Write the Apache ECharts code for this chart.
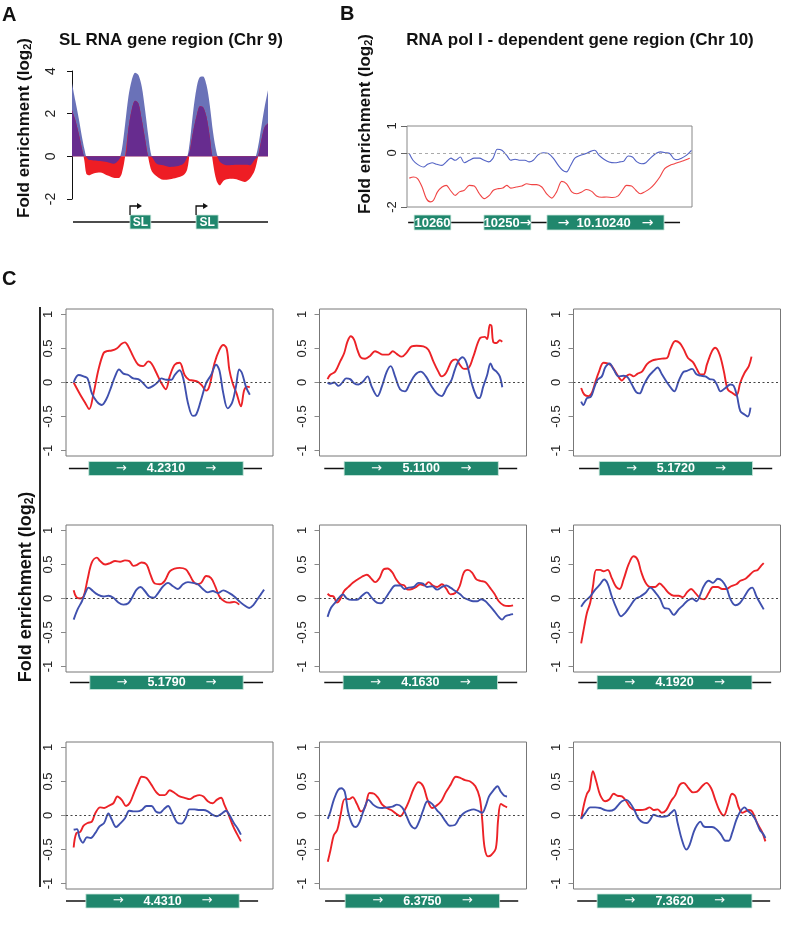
<!DOCTYPE html>
<html><head><meta charset="utf-8">
<script src="https://cdn.jsdelivr.net/npm/echarts@6/dist/echarts.min.js"></script>
<style>html,body{margin:0;padding:0;background:#fff}#c{width:797px;height:928px}</style>
</head><body><div id="c"></div>
<script>
// ---------------- DATA ----------------
// Panel A: SL RNA gene region (Chr 9), positions in % of region
const aX = [0,1.7,3.4,5.1,6.3,7.3,8.5,11,14.4,17.8,21.2,23.7,25.4,27.1,28.8,30.5,32.2,33.9,35.6,37.3,39,40.7,43.2,46.6,50,53.4,56.8,58.8,60.2,61.9,63.6,65.3,66.9,68.6,70.3,72,73.7,75.4,77.5,80.5,83.9,88.1,90.7,93.2,94.9,96.6,98.3,100];
const aBlue = [3.42,2.6,1.8,0.9,0.35,-0.03,-0.16,-0.19,-0.22,-0.27,-0.35,-0.19,0.3,1.5,2.8,3.58,3.92,3.81,3.26,2.16,0.91,-0.03,-0.35,-0.42,-0.5,-0.47,-0.35,-0.03,0.75,2.16,3.23,3.72,3.74,3.35,2.4,1.1,0.2,-0.25,-0.38,-0.42,-0.4,-0.4,-0.42,-0.16,0.44,1.38,2.32,3.1];
const aRed = [2.16,1.7,1.07,0.36,-0.19,-0.82,-0.89,-0.8,-0.76,-0.89,-1.0,-1.02,-0.8,0.0,1.3,2.2,2.6,2.48,1.7,0.8,-0.1,-0.7,-0.93,-1.1,-1.07,-1.0,-0.89,-0.6,0.3,1.2,1.9,2.35,2.3,1.85,0.91,-0.35,-1.13,-1.36,-1.13,-1.05,-1.08,-1.2,-1.05,-0.66,-0.03,0.75,1.38,1.54];
const aGeneStart = [29.6, 63.3];
const aGeneEnd = [40.2, 74.6];
const aGeneLabels = ['SL', 'SL'];

// Panel B: RNA pol I - dependent gene region (Chr 10)
const bBlue = [[0.8,-0.02],[2.1,-0.27],[3.7,-0.42],[5.8,-0.52],[7.2,-0.42],[8.8,-0.36],[10.5,-0.42],[12.3,-0.46],[13.8,-0.33],[15.4,-0.19],[16.9,-0.27],[18.7,-0.15],[20.1,-0.36],[21.9,-0.27],[23.6,-0.19],[25.4,-0.19],[27.1,-0.27],[28.6,-0.33],[30.1,-0.21],[31.7,0.14],[33.3,0.1],[35,-0.09],[36.4,-0.27],[37.9,-0.23],[39.7,-0.27],[41.4,-0.27],[42.9,-0.33],[44.3,-0.27],[46.1,-0.06],[47.8,0.01],[49.6,-0.02],[51.3,-0.19],[53.1,-0.46],[54.6,-0.64],[56,-0.7],[57.4,-0.46],[58.9,-0.19],[60.7,-0.09],[62.8,-0.02],[64.4,0.06],[65.9,0.1],[67.4,-0.09],[69.1,-0.23],[70.9,-0.33],[72.9,-0.36],[74.7,-0.33],[76.1,-0.3],[77.6,-0.11],[79.1,-0.15],[80.7,-0.33],[82.3,-0.4],[83.8,-0.36],[85.4,-0.19],[87.3,-0.02],[88.9,0.04],[90.8,0.01],[92.2,-0.02],[93.6,-0.21],[94.7,-0.25],[96.3,-0.19],[98,-0.09],[99.8,0.1]];
const bRed = [[0.8,-0.93],[2.3,-0.89],[3.7,-0.95],[5.3,-1.26],[6.8,-1.69],[8.2,-1.81],[9.3,-1.75],[10.7,-1.44],[12.3,-1.26],[13.8,-1.2],[15.2,-1.38],[16.9,-1.57],[18.4,-1.44],[20.1,-1.38],[21.9,-1.2],[23.6,-1.22],[25.4,-1.51],[27.1,-1.69],[28.9,-1.57],[30.3,-1.38],[32.1,-1.32],[33.6,-1.3],[35,-1.2],[36.4,-1.3],[38.3,-1.26],[40.3,-1.22],[42,-1.14],[43.8,-1.17],[45.5,-1.17],[47.3,-1.26],[49,-1.51],[50.8,-1.67],[52.5,-1.44],[54.3,-1.05],[56,-1.14],[57.8,-1.44],[59.5,-1.51],[61.3,-1.44],[63,-1.35],[64.8,-1.42],[66.5,-1.59],[68.3,-1.64],[70,-1.63],[72.1,-1.65],[74.1,-1.59],[75.6,-1.38],[77,-1.2],[78.8,-1.22],[80.3,-1.38],[81.9,-1.51],[83.4,-1.44],[85.2,-1.32],[86.9,-1.14],[88.7,-0.89],[90.4,-0.58],[92.2,-0.46],[93.9,-0.4],[95.7,-0.33],[97.4,-0.27],[99.2,-0.19]];
const bGeneStart = [2.5, 27, 49.1];
const bGeneEnd = [15.4, 43.5, 90.2];
const bGeneLabels = ['10260', '10250\u2192', '\u2192  10.10240   \u2192'];

// Panel C: nine genes
const cNames = ['4.2310','5.1100','5.1720','5.1790','4.1630','4.1920','4.4310','6.3750','7.3620'];
const cGeneStart = [11, 11.9, 12.4, 11.5, 11.4, 11.4, 9.6, 12.4, 11.4];
const cGeneEnd = [85.6, 86.4, 86.5, 85.6, 86, 86.2, 83.7, 87, 86.2];
const cLineStart = [1.4, 2.3, 2.7, 1.9, 2.3, 2.3, 0, 2.7, 1.8];
const cLineEnd = [94.7, 95.5, 96, 95.2, 95.5, 95.5, 92.8, 96, 95];

const c1Red = [[3.7,0],[6.9,-0.18],[9.3,-0.3],[11.2,-0.39],[13.3,-0.16],[15.7,0.19],[18.1,0.43],[19.7,0.46],[22.1,0.47],[24.5,0.5],[26.9,0.57],[28.5,0.59],[30.1,0.53],[32.5,0.38],[34.9,0.26],[37.3,0.24],[39.7,0.31],[41.3,0.28],[43.7,0.14],[46.1,-0.01],[48.2,-0.1],[50.1,0.09],[52.5,0.26],[54.9,0.29],[57.3,0.11],[59.4,0.04],[61.3,0.03],[63.7,0.01],[65.8,-0.05],[67.7,-0.12],[69.3,-0.05],[71.7,0.28],[74.1,0.48],[76,0.55],[77.6,0.5],[78.9,0.19],[80.5,-0.01],[82.4,-0.16],[84.5,-0.35],[86.1,-0.11],[87.7,-0.06],[88.8,-0.07]];
const c1Blue = [[3.7,0],[6.1,0.11],[8.5,0.09],[10.4,0.06],[12.5,-0.16],[14.9,-0.28],[17.3,-0.33],[19.4,-0.25],[21.3,-0.11],[23.7,0.09],[25.6,0.19],[27.7,0.13],[30.1,0.11],[32.5,0.06],[34.9,0.05],[37.3,-0.01],[39.7,-0.08],[42.1,-0.05],[44.5,0.01],[46.1,0.06],[48.5,0.04],[50.9,0.04],[52.5,0.11],[54.9,0.18],[56.8,0.04],[58.9,-0.3],[61.3,-0.49],[62.9,-0.47],[65.3,-0.25],[67.7,-0.01],[70.1,0.11],[72.5,0.26],[74.1,0.18],[76,-0.16],[78.1,-0.38],[80.2,-0.3],[82.1,-0.06],[83.7,0.19],[85,0.14],[86.9,-0.06],[88.8,-0.18]];
const c2Red = [[3.9,0.05],[5.1,0.11],[7.6,0.16],[10,0.31],[11.9,0.43],[13.5,0.6],[15.1,0.68],[16.7,0.63],[18.3,0.48],[19.9,0.37],[22,0.35],[24.4,0.39],[26.8,0.46],[28.5,0.44],[30.5,0.41],[33.3,0.41],[35.4,0.46],[37.3,0.42],[39.7,0.38],[42.1,0.44],[44.5,0.53],[46.9,0.54],[50.2,0.53],[52.6,0.48],[55,0.31],[57.4,0.16],[59,0.09],[61.1,0.14],[63.8,0.31],[65.9,0.34],[67.8,0.26],[69.8,0.2],[71.9,0.21],[74.3,0.38],[77.5,0.65],[79.9,0.67],[81,0.64],[82.3,0.85],[83.1,0.83],[83.9,0.6],[85.5,0.58],[87.1,0.62],[88.3,0.6]];
const c2Blue = [[3.9,0],[5.1,-0.02],[7.1,0],[9.2,-0.05],[11.3,0.01],[12.9,0.06],[14.8,0.05],[16.7,-0.01],[18.8,-0.03],[20.9,0.01],[23.2,0.09],[25.2,-0.06],[28,-0.2],[30.1,-0.06],[32.5,0.16],[34.4,0.24],[36.5,0.09],[38.9,-0.1],[41.3,-0.13],[43.4,-0.03],[46.1,0.11],[48.9,0.16],[51.4,0.09],[54.2,-0.06],[56.6,-0.16],[59,-0.2],[61.4,-0.08],[63.8,0.04],[65.4,0.19],[67,0.31],[69.1,0.37],[71.1,0.28],[73.5,-0.01],[75.9,-0.21],[77.2,-0.23],[79.1,-0.06],[81,0.11],[82.6,0.28],[83.9,0.2],[85.5,0.16],[87.1,0.09],[88.3,-0.07]];
const c3Red = [[3.7,-0.08],[5.3,-0.18],[7.3,-0.2],[8.9,-0.15],[10.5,0],[12.1,0.14],[14.5,0.29],[16.5,0.28],[18.5,0.24],[21,0.12],[23.4,0.03],[25,0.08],[27.1,0.12],[29,0.09],[31,0.13],[33.1,0.16],[35.5,0.27],[37.9,0.32],[40.3,0.34],[42.7,0.35],[45.2,0.36],[46.8,0.49],[49.2,0.61],[51.3,0.58],[53.2,0.49],[55.3,0.36],[57.7,0.3],[59.7,0.19],[61.3,0.12],[62.9,0.12],[64.5,0.27],[66.9,0.46],[68.5,0.51],[70.6,0.41],[72.6,0.17],[74.5,-0.1],[76.6,-0.15],[78.7,-0.19],[80.6,0],[82.6,0.14],[84.7,0.24],[86,0.38]];
const c3Blue = [[3.7,-0.28],[4.8,-0.33],[6.5,-0.23],[8.4,-0.21],[10,-0.08],[11.6,0.04],[13.7,0.09],[15.3,0.22],[17.4,0.28],[19.4,0.19],[21.8,0.09],[24.2,0.1],[26.1,0.08],[28.2,-0.03],[30.3,-0.14],[31.9,-0.16],[33.9,-0.04],[36.3,0.09],[38.7,0.17],[40.6,0.22],[42.7,0.12],[45.2,0],[47.6,-0.1],[48.7,-0.13],[50.8,0.02],[52.9,0.15],[54.8,0.17],[57.3,0.2],[59.4,0.12],[61.3,0.1],[63.7,0.09],[65.8,0.05],[67.7,0.04],[69.4,-0.04],[71,-0.13],[73.4,-0.08],[75.8,-0.03],[77.4,-0.05],[79,-0.2],[80.6,-0.42],[82.6,-0.47],[84.2,-0.5],[85.5,-0.37]];
const c4Red = [[3.7,0.12],[5,0.02],[6.9,0],[8.5,0.03],[10.4,0.28],[12.5,0.53],[14.9,0.6],[16.5,0.55],[18.9,0.5],[21.3,0.52],[23.7,0.55],[26.1,0.54],[28.5,0.56],[30.6,0.55],[32.5,0.48],[34.1,0.49],[36.5,0.53],[38.9,0.5],[40.8,0.35],[42.9,0.22],[45.3,0.21],[47.7,0.26],[50.1,0.4],[52.5,0.44],[54.9,0.45],[57.8,0.43],[59.7,0.35],[61.3,0.26],[63.2,0.21],[65.3,0.23],[67.7,0.33],[70.1,0.3],[72.2,0.17],[74.1,0.03],[76.5,-0.04],[78.9,-0.06],[81.3,-0.05],[83.7,-0.09]];
const c4Blue = [[3.7,-0.31],[5.6,-0.16],[7.7,-0.04],[9.3,0.08],[10.9,0.16],[13,0.11],[15.2,0.06],[18.1,0.03],[20.5,0.04],[22.9,0.01],[25.3,-0.06],[27.7,-0.09],[30.1,-0.07],[32.2,0.03],[34.1,0.13],[36,0.17],[38.1,0.11],[40.2,0.03],[42.4,0.01],[44.5,0.08],[46.9,0.18],[49.3,0.23],[51.7,0.18],[54.1,0.14],[56.5,0.21],[58.9,0.24],[61.3,0.23],[63.7,0.21],[66.1,0.14],[68.5,0.09],[70.9,0.11],[73.3,0.08],[76,0.12],[78.9,0.08],[81.3,0.03],[83.7,-0.04],[86.1,-0.1],[88.5,-0.14],[90.4,-0.1],[92.5,-0.01],[94.1,0.06],[95.7,0.13]];
const c5Red = [[3.9,0.07],[5.2,0.04],[6.8,0.03],[8.4,-0.06],[10,-0.01],[11.9,0.11],[14,0.17],[16.1,0.23],[18.4,0.28],[20.5,0.32],[22.9,0.35],[24.8,0.3],[26.9,0.24],[29,0.3],[31,0.43],[32.9,0.44],[35,0.39],[37.1,0.28],[39,0.21],[41,0.19],[42.6,0.13],[44.7,0.14],[46.8,0.17],[48.7,0.21],[50.6,0.19],[52.7,0.24],[54.8,0.19],[56.8,0.17],[59.2,0.21],[61.3,0.14],[63.2,0.06],[65.6,0.08],[67.7,0.18],[69.7,0.38],[71.6,0.42],[73.7,0.38],[75.8,0.28],[77.7,0.26],[80.2,0.24],[82.3,0.16],[84.5,0.07],[86.6,-0.04],[89,-0.1],[91.5,-0.11],[93.5,-0.1]];
const c5Blue = [[3.9,-0.27],[5.5,-0.14],[7.6,-0.06],[9.7,0.02],[11.3,0.06],[13.2,0],[15.6,-0.02],[18.1,-0.02],[20.5,0.04],[22.9,0.09],[25.3,0.01],[27.7,-0.06],[29.7,-0.07],[31.8,0],[34.2,0.11],[36.6,0.19],[39,0.19],[41,0.14],[43.1,0.16],[45.5,0.17],[47.9,0.23],[50,0.22],[51.9,0.17],[54.4,0.18],[56.8,0.13],[59.2,0.17],[61.3,0.19],[63.2,0.16],[65.6,0.11],[68.1,0.06],[69.7,0.01],[72.1,-0.02],[74.2,-0.04],[76.1,-0.04],[78.1,-0.01],[80.2,-0.04],[82.3,-0.11],[84.5,-0.19],[86.6,-0.27],[88.2,-0.31],[89.8,-0.26],[91.9,-0.24],[93.5,-0.23]];
const c6Red = [[3.7,-0.66],[5.2,-0.41],[6.5,-0.21],[8.1,-0.06],[9.4,0.18],[11,0.42],[12.9,0.42],[14.5,0.4],[16.5,0.42],[18.5,0.3],[20.6,0.17],[22.3,0.14],[24.2,0.28],[26.6,0.5],[29,0.62],[31,0.57],[32.6,0.4],[34.7,0.24],[37.1,0.17],[39.5,0.17],[41.6,0.22],[43.5,0.17],[46,0.08],[48.4,0.04],[50.8,0.04],[52.9,0.02],[54.8,0.09],[56.8,0.14],[58.9,0.08],[61.3,0],[63.2,-0.01],[65.3,0.08],[67.4,0.17],[69.7,0.17],[71.8,0.14],[73.9,0.14],[76.1,0.18],[78.7,0.21],[80.6,0.26],[83.1,0.29],[85.2,0.35],[87.1,0.4],[89,0.42],[90.6,0.48],[91.9,0.52]];
const c6Blue = [[3.7,-0.12],[5.6,-0.04],[8.1,0.03],[10.5,0.13],[12.9,0.21],[14.8,0.28],[16.5,0.22],[18.5,0.03],[21,-0.16],[22.9,-0.26],[25,-0.21],[27.4,-0.11],[29.8,-0.01],[32.3,0.03],[34.7,0.08],[37.1,0.16],[39.5,0.09],[41.9,-0.01],[43.9,-0.14],[46,-0.15],[48.4,-0.24],[50.8,-0.16],[52.9,-0.1],[54.8,-0.04],[57.3,0],[59.4,-0.04],[61.3,0.06],[62.9,0.18],[65.3,0.26],[67.4,0.23],[69.7,0.29],[71.8,0.26],[73.9,0.16],[75.8,-0.01],[78.2,-0.1],[80.3,-0.07],[82.6,0.03],[84.7,0.13],[86.3,0.16],[88.4,0.03],[90,-0.06],[91.9,-0.16]];
const c7Red = [[3.7,-0.47],[5,-0.26],[6.9,-0.24],[8.5,-0.15],[10.4,-0.11],[12.5,-0.09],[14.1,0.03],[16.5,0.12],[18.4,0.11],[20.5,0.14],[22.9,0.18],[24.8,0.28],[26.9,0.23],[29,0.14],[30.9,0.19],[32.8,0.33],[34.9,0.48],[36.5,0.57],[38.9,0.55],[41.3,0.45],[43.4,0.35],[45.6,0.3],[47.7,0.3],[50.1,0.37],[52.5,0.33],[54.9,0.28],[57.3,0.26],[59.7,0.24],[62.1,0.28],[64.5,0.3],[66.4,0.28],[68.5,0.21],[70.9,0.18],[72.8,0.23],[74.9,0.26],[76.5,0.16],[78.6,0.01],[80.5,-0.14],[82.4,-0.26],[84.5,-0.38]];
const c7Blue = [[3.7,-0.21],[5.3,-0.2],[6.6,-0.33],[8.2,-0.4],[10.1,-0.32],[12,-0.33],[14.1,-0.26],[16.2,-0.16],[18.4,-0.11],[20.5,0.03],[22.1,-0.06],[24.2,-0.17],[26.1,-0.12],[28.5,-0.04],[30.6,0.07],[32.5,0.06],[34.4,0.06],[36.5,0.08],[38.9,0.14],[41.3,0.14],[43.4,0.06],[45.3,0.04],[47.2,0.09],[49.3,0.14],[51.4,0.03],[53.6,-0.1],[55.7,-0.12],[57.8,-0.04],[59.7,0.09],[62.1,0.09],[64.5,0.08],[66.4,0.08],[68.5,0.06],[70.9,0.01],[72.8,-0.01],[74.9,0.02],[77.3,0.07],[78.9,0.01],[81.3,-0.12],[82.9,-0.19],[84.5,-0.28]];
const c8Red = [[4,-0.68],[5.3,-0.51],[6.9,-0.29],[8.6,-0.21],[10.2,0.01],[12.2,0.24],[14.3,0.24],[16,0.27],[18.1,0.17],[20.1,0.06],[22.1,0.13],[24.2,0.33],[26.4,0.32],[28.3,0.26],[30.3,0.16],[32.5,0.11],[34.6,0.08],[36.9,0.03],[39,-0.01],[41.2,0.08],[43.2,0.21],[45.6,0.4],[47.8,0.49],[50.1,0.43],[52.2,0.23],[54.4,0.11],[56.3,0.14],[58.8,0.21],[61,0.34],[63.3,0.45],[65.9,0.57],[68.2,0.55],[70.3,0.52],[72.8,0.5],[75.3,0.43],[77.4,0.26],[78.6,-0.06],[79.7,-0.46],[81.4,-0.6],[83,-0.58],[85.2,-0.48],[86.3,-0.06],[87.6,0.17],[89.3,0.14],[90.6,0.12]];
const c8Blue = [[4,-0.05],[5.3,0.06],[6.9,0.23],[8.9,0.37],[10.5,0.4],[12.2,0.35],[13.8,0.06],[16,-0.14],[17.6,-0.17],[19.3,-0.1],[21.4,0.08],[23.7,0.23],[25.9,0.16],[28,0.12],[30.3,0.11],[32.9,0.12],[35.3,0.13],[37.4,0.16],[39.9,0.12],[41.8,0.01],[44,-0.14],[46.1,-0.19],[48.1,-0.09],[50.1,0.08],[52.2,0.21],[54.4,0.17],[56.7,0.08],[58.8,0.01],[61,-0.09],[62.9,-0.15],[65.4,-0.14],[67.5,-0.04],[69.5,0.03],[72,0.07],[74.5,0.09],[76.4,0.07],[78.6,0.04],[80.2,0.13],[81.9,0.28],[84,0.37],[86,0.43],[87.6,0.35],[89.3,0.29],[90.6,0.28]];
const c9Red = [[3.7,-0.05],[5.2,0.18],[6.5,0.32],[7.7,0.38],[9.4,0.65],[11,0.5],[12.9,0.3],[15.3,0.21],[17.4,0.24],[19.4,0.32],[21.3,0.29],[23.4,0.28],[25.5,0.21],[27.4,0.12],[29.8,0.08],[32.3,0.08],[34.7,0.09],[36.8,0.12],[38.7,0.08],[40.6,0.09],[42.7,0.04],[44.8,0.08],[47.1,0.21],[49.2,0.3],[51.3,0.45],[53.2,0.48],[55.6,0.4],[57.7,0.34],[59.7,0.35],[62.1,0.43],[64.2,0.48],[66.5,0.4],[68.5,0.23],[70.6,0.07],[72.6,0],[74.5,0.14],[76.6,0.32],[78.2,0.28],[79.8,0.12],[81.5,0.04],[83.1,0.06],[84.7,0.08],[86.3,0.06],[88.7,-0.11],[91.1,-0.24],[92.7,-0.38]];
const c9Blue = [[3.7,-0.05],[5.6,0.03],[8.1,0.12],[10.5,0.12],[12.9,0.11],[15.3,0.08],[17.4,0.07],[19.7,0.09],[21.8,0.16],[23.4,0.21],[25.5,0.23],[27.4,0.18],[29.4,0.08],[31.5,-0.05],[33.5,-0.1],[35.5,-0.11],[37.1,-0.06],[38.7,0.01],[40.6,-0.01],[42.7,-0.02],[45.2,-0.01],[47.1,0.04],[48.7,0.08],[50.3,-0.11],[52.4,-0.36],[54.5,-0.5],[56.1,-0.43],[58.1,-0.24],[59.7,-0.14],[61.3,-0.09],[62.9,-0.16],[64.8,-0.17],[66.9,-0.17],[69,-0.2],[71.3,-0.28],[73.4,-0.37],[75,-0.37],[76.6,-0.26],[78.7,-0.06],[80.6,0.06],[82.6,0.12],[84.2,0.07],[86.3,0.01],[87.9,-0.06],[90,-0.21],[91.6,-0.27],[92.7,-0.33]];
const cRedSeries = [c1Red,c2Red,c3Red,c4Red,c5Red,c6Red,c7Red,c8Red,c9Red];
const cBlueSeries = [c1Blue,c2Blue,c3Blue,c4Blue,c5Blue,c6Blue,c7Blue,c8Blue,c9Blue];
const cTicks = [-1, -0.5, 0, 0.5, 1];

// ---------------- STYLE / LAYOUT ----------------
const FONT = '"Liberation Sans", Arial, Helvetica, sans-serif';
const ARROW_FONT = '"DejaVu Sans", sans-serif';
const GREEN = '#20876d';
const RED = '#ec2227', BLUE = '#3f50ae';
const colLeft = [66, 319.5, 573.5], colW = 207;
const rowTop = [309, 525, 742], rowH = 147;
const geneTop = [461.5, 675.5, 894], geneH = 14;

const grids = [], xAxes = [], yAxes = [], series = [];
function addCoord(grid, xOpt, yOpt) {
  const i = grids.length;
  grids.push(Object.assign({containLabel: false}, grid));
  xAxes.push(Object.assign({gridIndex: i, type: 'value', min: 0, max: 100, show: false}, xOpt || {}));
  yAxes.push(Object.assign({gridIndex: i, type: 'value', show: false, min: 0, max: 1}, yOpt || {}));
  return i;
}
// white bold text; arrows rendered with a font that has a wide, thin arrow glyph
function txt(x, y, text, size) {
  const rich = text.replace(/\u2192/g, '{a|\u2192}');
  return {type: 'text', x: x, y: y, style: {text: rich, fill: '#fff', fontSize: size, fontWeight: 'bold', fontFamily: FONT,
    align: 'center', verticalAlign: 'middle',
    rich: {a: {fontFamily: ARROW_FONT, fontSize: size + 1, fontWeight: 'normal', fill: '#fff'}}}};
}
function geneTrack(idx, lineS, lineE, starts, ends, labels, kind) {
  series.push({type: 'line', xAxisIndex: idx, yAxisIndex: idx, data: [[lineS, 0.5], [lineE, 0.5]],
    showSymbol: false, silent: true, z: 1, lineStyle: {color: '#111', width: 1.5}});
  series.push({type: 'custom', xAxisIndex: idx, yAxisIndex: idx, silent: true, z: 2, clip: false,
    data: starts.map((s, k) => [s, ends[k]]),
    renderItem: function (params, api) {
      const p0 = api.coord([api.value(0), 1]);
      const p1 = api.coord([api.value(1), 0]);
      const w = p1[0] - p0[0], h = p1[1] - p0[1];
      const cy = p0[1] + h / 2;
      const lab = labels[params.dataIndex];
      const ch = [{type: 'rect', shape: {x: p0[0], y: p0[1], width: w, height: h},
        style: {fill: GREEN, stroke: '#cde8de', lineWidth: 0.8}}];
      if (kind === 'c') {
        ch.push(txt(p0[0] + w * 0.21, cy, '\u2192', 12));
        ch.push(txt(p0[0] + w * 0.5, cy + 0.5, lab, 12.5));
        ch.push(txt(p0[0] + w * 0.79, cy, '\u2192', 12));
      } else if (kind === 'b') {
        ch.push(txt(p0[0] + w * 0.5, cy + 0.5, lab, 13));
      } else {
        ch.push(txt(p0[0] + w * 0.5, cy + 0.5, lab, 12));
        const x0 = p0[0], t = p0[1];
        ch.push({type: 'polyline', shape: {points: [[x0, t], [x0, t - 9], [x0 + 8, t - 9]]}, style: {stroke: '#111', lineWidth: 1.3, fill: null}});
        ch.push({type: 'polygon', shape: {points: [[x0 + 7, t - 12], [x0 + 12, t - 9], [x0 + 7, t - 6]]}, style: {fill: '#111'}});
      }
      return {type: 'group', children: ch};
    }});
}

// ---- Panel A ----
const gA = addCoord({left: 72, top: 71, width: 196, height: 128},
  {}, {show: true, min: -2, max: 4, interval: 2, offset: 5,
    axisLine: {show: true, lineStyle: {color: '#111', width: 1}},
    axisTick: {show: true, length: 5, lineStyle: {color: '#111'}},
    splitLine: {show: false},
    axisLabel: {rotate: 90, fontSize: 14, color: '#222', margin: 9, fontFamily: FONT}});
const aBluePts = aX.map((x, i) => [x, aBlue[i]]);
const aRedPts = aX.map((x, i) => [x, aRed[i]]);
const aOverlapPts = aX.map((x, i) => {
  const b = aBlue[i], r = aRed[i];
  return [x, (b > 0 && r > 0) ? Math.min(b, r) : (b < 0 && r < 0) ? Math.max(b, r) : 0];
});
[[aBluePts, '#6a72b8'], [aRedPts, '#ee1d24'], [aOverlapPts, '#672c8f']].forEach(([d, col], k) => {
  series.push({type: 'line', xAxisIndex: gA, yAxisIndex: gA, data: d, showSymbol: false, smooth: 0.3, silent: true, z: 2 + k,
    lineStyle: {width: 0, opacity: 0}, areaStyle: {color: col, opacity: 1, origin: 0}});
});
const gAg = addCoord({left: 72, top: 215, width: 196, height: 14});
geneTrack(gAg, 0.5, 100, aGeneStart, aGeneEnd, aGeneLabels, 'a');

// ---- Panel B ----
const gB = addCoord({left: 407, top: 126, width: 285, height: 81, show: true, borderColor: '#888', borderWidth: 1},
  {}, {show: true, min: -2, max: 1,
    axisLine: {show: false},
    axisTick: {show: true, length: 6, lineStyle: {color: '#666'}, customValues: [-2, 0, 1]},
    splitLine: {show: false},
    axisLabel: {rotate: 90, fontSize: 13, color: '#222', margin: 8, fontFamily: FONT, customValues: [-2, 0, 1]}});
series.push({type: 'line', xAxisIndex: gB, yAxisIndex: gB, data: bRed, showSymbol: false, smooth: 0.3, silent: true,
  lineStyle: {color: '#f04444', width: 1.1},
  markLine: {silent: true, symbol: ['none', 'none'], label: {show: false}, lineStyle: {type: [3, 3], color: '#aaa', width: 1}, data: [{yAxis: 0}]}});
series.push({type: 'line', xAxisIndex: gB, yAxisIndex: gB, data: bBlue, showSymbol: false, smooth: 0.3, silent: true,
  lineStyle: {color: '#5262c4', width: 1.1}});
const gBg = addCoord({left: 407, top: 215, width: 285, height: 15});
geneTrack(gBg, 0.4, 95.8, bGeneStart, bGeneEnd, bGeneLabels, 'b');

// ---- Panel C ----
for (let k = 0; k < 9; k++) {
  const r = Math.floor(k / 3), c = k % 3;
  const g = addCoord({left: colLeft[c], top: rowTop[r], width: colW, height: rowH, show: true, borderColor: '#777', borderWidth: 1},
    {}, {show: true, min: -1.08, max: 1.08, offset: 3,
      axisLine: {show: false},
      axisTick: {show: true, length: 5, lineStyle: {color: '#888'}, customValues: cTicks},
      splitLine: {show: false},
      axisLabel: {rotate: 90, fontSize: 13, color: '#222', margin: 8, fontFamily: FONT, customValues: cTicks,
        formatter: v => String(v)}});
  series.push({type: 'line', xAxisIndex: g, yAxisIndex: g, data: cRedSeries[k], showSymbol: false, smooth: 0.35, silent: true, z: 3,
    lineStyle: {color: RED, width: 1.9},
    markLine: {silent: true, symbol: ['none', 'none'], label: {show: false}, lineStyle: {type: [2, 2.5], color: '#444', width: 1.2}, data: [{yAxis: 0}]}});
  series.push({type: 'line', xAxisIndex: g, yAxisIndex: g, data: cBlueSeries[k], showSymbol: false, smooth: 0.35, silent: true, z: 4,
    lineStyle: {color: BLUE, width: 1.9}});
  const gg = addCoord({left: colLeft[c], top: geneTop[r], width: colW, height: geneH});
  geneTrack(gg, cLineStart[k], cLineEnd[k], [cGeneStart[k]], [cGeneEnd[k]], [cNames[k]], 'c');
}

// ---------------- TEXT GRAPHICS ----------------
function yLabel(cx, cy, size) {
  return {type: 'text', x: cx, y: cy, rotation: Math.PI / 2, silent: true,
    style: {text: '{n|Fold enrichment (log}{s|2}{n|)}', align: 'center', verticalAlign: 'middle',
      rich: {
        n: {fontSize: size, fontWeight: 'bold', fontFamily: FONT, fill: '#111', lineHeight: size + 2},
        s: {fontSize: Math.round(size * 0.66), fontWeight: 'bold', fontFamily: FONT, fill: '#111', lineHeight: 12, padding: [8, 0, 0, 0], verticalAlign: 'bottom'}
      }}};
}
const graphic = [
  {type: 'text', left: 2, top: 5, style: {text: 'A', fontSize: 20, fontWeight: 'bold', fontFamily: FONT, fill: '#111'}},
  {type: 'text', left: 340, top: 4, style: {text: 'B', fontSize: 20, fontWeight: 'bold', fontFamily: FONT, fill: '#111'}},
  {type: 'text', left: 2, top: 269, style: {text: 'C', fontSize: 20, fontWeight: 'bold', fontFamily: FONT, fill: '#111'}},
  {type: 'text', x: 171, y: 40, style: {text: 'SL RNA gene region (Chr 9)', fontSize: 17, fontWeight: 'bold', fontFamily: FONT, fill: '#111', align: 'center', verticalAlign: 'middle'}},
  {type: 'text', x: 580, y: 40, style: {text: 'RNA pol I - dependent gene region (Chr 10)', fontSize: 17, fontWeight: 'bold', fontFamily: FONT, fill: '#111', align: 'center', verticalAlign: 'middle'}},
  yLabel(24, 128, 17),
  yLabel(365, 124, 17),
  yLabel(26, 587, 18),
  {type: 'line', shape: {x1: 40, y1: 307, x2: 40, y2: 887}, style: {stroke: '#111', lineWidth: 1.8}}
];

const chart = echarts.init(document.getElementById('c'), null, {renderer: 'canvas'});
chart.setOption({
  animation: false,
  backgroundColor: '#fff',
  grid: grids, xAxis: xAxes, yAxis: yAxes, series: series, graphic: graphic
});
</script>
</body></html>
